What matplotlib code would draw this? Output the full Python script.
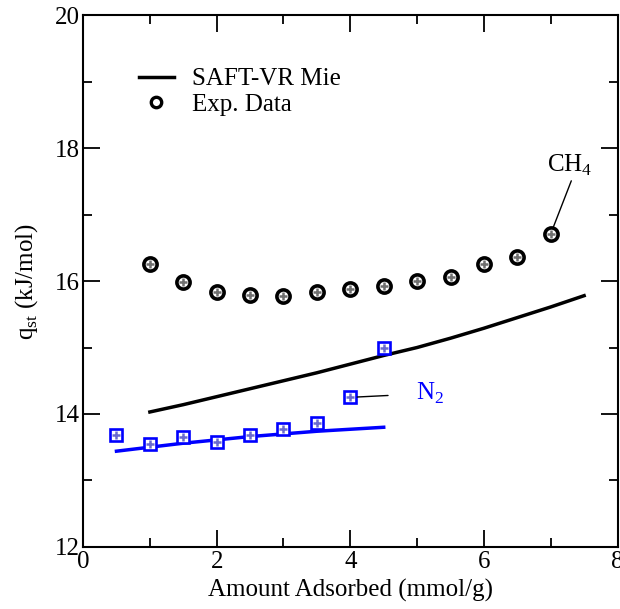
import numpy as np
import matplotlib.pyplot as plt
from matplotlib.lines import Line2D
from matplotlib.ticker import MultipleLocator

plt.rcParams['font.family'] = ['Liberation Serif', 'DejaVu Serif']
plt.rcParams['mathtext.fontset'] = 'custom'
plt.rcParams['mathtext.rm'] = 'Liberation Serif'

# experimental isosteric heats
ch4_x = [1.0, 1.5, 2.0, 2.5, 3.0, 3.5, 4.0, 4.5, 5.0, 5.5, 6.0, 6.5, 7.0]
ch4_exp = [16.26, 15.99, 15.84, 15.79, 15.77, 15.84, 15.88, 15.93, 16.00, 16.06, 16.26, 16.36, 16.71]
n2_x = [0.5, 1.0, 1.5, 2.0, 2.5, 3.0, 3.5, 4.0, 4.5]
n2_exp = [13.69, 13.55, 13.65, 13.58, 13.69, 13.77, 13.86, 14.25, 14.99]

# SAFT-VR Mie predictions
ch4_mx = [1.0, 1.5, 2.0, 2.5, 3.0, 3.5, 4.0, 4.5, 5.0, 5.5, 6.0, 6.5, 7.0, 7.5]
ch4_model = [14.03, 14.14, 14.26, 14.38, 14.50, 14.62, 14.75, 14.88, 15.00, 15.14, 15.29, 15.45, 15.61, 15.78]
n2_mx = [0.5, 1.0, 1.5, 2.0, 2.5, 3.0, 3.5, 4.0, 4.5]
n2_model = [13.44, 13.50, 13.56, 13.61, 13.66, 13.70, 13.74, 13.77, 13.80]

fs = 18

fig = plt.figure(figsize=(6.2, 6.09), dpi=100)
ax = fig.add_axes([0.134, 0.102, 0.862, 0.873])

ax.plot(ch4_mx, ch4_model, color='black', lw=2.5)
ax.plot(n2_mx, n2_model, color='blue', lw=2.5)

# symbols: open marker plus a small grey cross for the dotted fill
ax.plot(ch4_x, ch4_exp, 'o', ms=9.5, mfc='white', mec='black', mew=2.6, zorder=3)
ax.plot(ch4_x, ch4_exp, '+', ms=5.5, color='#707070', mew=1.8, zorder=4)
ax.plot(n2_x, n2_exp, 's', ms=8.5, mfc='white', mec='blue', mew=1.9, zorder=3)
ax.plot(n2_x, n2_exp, '+', ms=5.5, color='#6a6ad0', mew=1.8, zorder=4)

ax.annotate('CH$_4$', xy=(7.0, 16.71), xytext=(6.95, 17.55), fontsize=fs,
            ha='left', va='bottom',
            arrowprops=dict(arrowstyle='-', color='black', lw=1, shrinkA=0, shrinkB=5,
                            relpos=(0.55, 0.0)))
ax.annotate('N$_2$', xy=(4.0, 14.25), xytext=(4.98, 14.12), fontsize=fs, color='blue',
            ha='left', va='bottom',
            arrowprops=dict(arrowstyle='-', color='black', lw=1, shrinkA=18, shrinkB=5))

ax.set_xlim(0, 8)
ax.set_ylim(12, 20)
ax.xaxis.set_major_locator(MultipleLocator(2))
ax.xaxis.set_minor_locator(MultipleLocator(1))
ax.yaxis.set_major_locator(MultipleLocator(2))
ax.yaxis.set_minor_locator(MultipleLocator(1))
ax.tick_params(which='both', direction='in', top=True, right=True, labelsize=fs, width=1.3, pad=2)
ax.tick_params(axis='x', which='both', pad=3)
ax.tick_params(which='major', length=12)
ax.tick_params(which='minor', length=6.5)
for s in ax.spines.values():
    s.set_linewidth(1.5)

ax.set_xlabel('Amount Adsorbed (mmol/g)', fontsize=fs, labelpad=4)
ax.set_ylabel('q$_{\\rm st}$ (kJ/mol)', fontsize=fs, labelpad=11)

handles = [Line2D([], [], color='black', lw=2.5),
           Line2D([], [], ls='none', marker='o', ms=7.5, mfc='white', mec='black', mew=2.4)]
ax.legend(handles, ['SAFT-VR Mie', 'Exp. Data'], loc='upper left',
          bbox_to_anchor=(0.085, 0.92), frameon=False, fontsize=fs,
          handlelength=1.4, handletextpad=0.75, labelspacing=0.12, borderaxespad=0)

fig.savefig('out.png', dpi=100)
